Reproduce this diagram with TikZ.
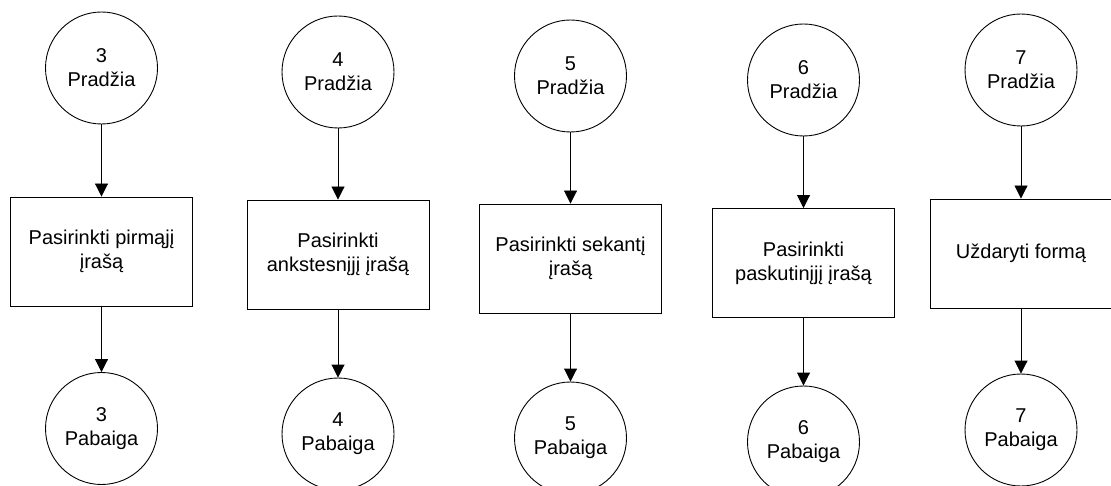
\documentclass[tikz,border=0pt]{standalone}
\usepackage{fontspec}
\setmainfont{Liberation Sans}
\usetikzlibrary{arrows.meta}
\begin{document}
\begin{tikzpicture}[x=1pt,y=-1pt,
  every node/.style={font=\fontsize{20}{24}\selectfont, align=center},
  terminal/.style={draw, circle, line width=0.9pt, minimum size=112pt, inner sep=0pt},
  action/.style={draw, rectangle, line width=0.9pt, minimum width=182pt, minimum height=109pt, inner sep=0pt},
  flow/.style={line width=0.9pt, -{Triangle[length=13pt,width=13pt]}}]
\useasboundingbox (0,0) rectangle (1111,486);
\clip (0,0) rectangle (1111,486);
\fill[white] (0,0) rectangle (1111,486);

% column 3
\node[terminal] (s3) at (101.5,68) {3\\Pradžia};
\node[action]   (a3) at (101.5,251.5) {Pasirinkti pirmąjį\\įrašą};
\node[terminal] (e3) at (101.5,428.5) {3\\Pabaiga};

% column 4
\node[terminal] (s4) at (338,72) {4\\Pradžia};
\node[action]   (a4) at (338,254.5) {Pasirinkti\\ankstesnįjį įrašą};
\node[terminal] (e4) at (338,434) {4\\Pabaiga};

% column 5
\node[terminal] (s5) at (570.5,76) {5\\Pradžia};
\node[action]   (a5) at (570.5,258.5) {Pasirinkti sekantį\\įrašą};
\node[terminal] (e5) at (570.5,438) {5\\Pabaiga};

% column 6
\node[terminal] (s6) at (803.5,80) {6\\Pradžia};
\node[action]   (a6) at (803.5,263) {Pasirinkti\\paskutinįjį įrašą};
\node[terminal] (e6) at (803.5,442) {6\\Pabaiga};

% column 7
\node[terminal] (s7) at (1021,70) {7\\Pradžia};
\node[action]   (a7) at (1021,253.5) {Uždaryti formą};
\node[terminal] (e7) at (1021,430) {7\\Pabaiga};

\foreach \k in {3,4,5,6,7}{
  \draw[flow] (s\k) -- (a\k);
  \draw[flow] (a\k) -- (e\k);
}
\end{tikzpicture}
\end{document}
